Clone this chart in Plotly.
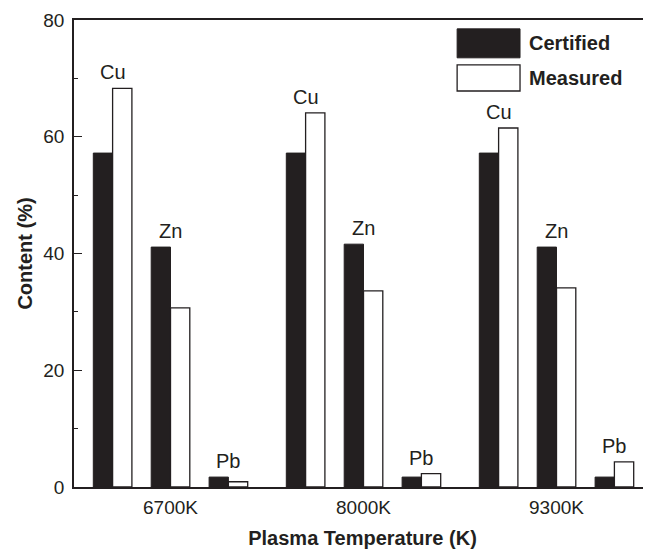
import plotly.graph_objects as go

# ---- data ----
temperatures = ["6700K", "8000K", "9300K"]
elements = ["Cu", "Zn", "Pb"]
certified_cu = [57.2, 57.2, 57.2]
certified_zn = [41.1, 41.6, 41.1]
certified_pb = [1.7, 1.7, 1.7]
measured_cu = [68.3, 64.1, 61.5]
measured_zn = [30.7, 33.6, 34.1]
measured_pb = [0.9, 2.3, 4.3]

certified = [certified_cu, certified_zn, certified_pb]
measured = [measured_cu, measured_zn, measured_pb]

INK = "#231f20"
FONT = "Liberation Sans, Arial, sans-serif"
elem_offset = [-0.3, 0.0, 0.3]
bar_w = 0.1

cx, cy, mx, my, lab = [], [], [], [], []
for g in range(len(temperatures)):
    for e in range(len(elements)):
        c = g + 1 + elem_offset[e]
        cx.append(c - bar_w / 2)
        cy.append(certified[e][g])
        mx.append(c + bar_w / 2)
        my.append(measured[e][g])
        lab.append((c, max(certified[e][g], measured[e][g]), elements[e]))

fig = go.Figure()
fig.add_trace(go.Bar(x=cx, y=cy, width=bar_w, name="Certified",
                     marker=dict(color=INK, line=dict(color=INK, width=1)),
                     showlegend=False))
fig.add_trace(go.Bar(x=mx, y=my, width=bar_w, name="Measured",
                     marker=dict(color="white", line=dict(color=INK, width=1.3)),
                     showlegend=False))

for (x, y, t) in lab:
    fig.add_annotation(x=x, y=y, text=t, showarrow=False, yanchor="bottom",
                       yshift=3, font=dict(family=FONT, size=20, color=INK))

# legend drawn manually (large swatches)
fig.add_shape(type="rect", xref="paper", yref="paper", x0=0.664, x1=0.773,
              y0=0.919, y1=0.981, fillcolor=INK, line=dict(color=INK, width=1))
fig.add_shape(type="rect", xref="paper", yref="paper", x0=0.664, x1=0.773,
              y0=0.848, y1=0.904, fillcolor="white", line=dict(color=INK, width=1.3))
fig.add_annotation(xref="paper", yref="paper", x=0.785, y=0.951, text="<b>Certified</b>",
                   showarrow=False, xanchor="left", yanchor="middle",
                   font=dict(family=FONT, size=20, color=INK))
fig.add_annotation(xref="paper", yref="paper", x=0.785, y=0.876, text="<b>Measured</b>",
                   showarrow=False, xanchor="left", yanchor="middle",
                   font=dict(family=FONT, size=20, color=INK))

fig.update_layout(
    width=643, height=541,
    margin=dict(l=66, r=0, t=12, b=62),
    plot_bgcolor="white", paper_bgcolor="white",
    barmode="overlay",
    font=dict(family=FONT, color=INK),
)
fig.update_xaxes(
    range=[0.5, 0.5 + 577 / 193], tickvals=[1, 2, 3], ticktext=temperatures,
    ticks="", showline=True, linecolor=INK, linewidth=1.5, mirror=True,
    showgrid=False, zeroline=False, automargin=False,
    tickfont=dict(family=FONT, size=19, color=INK),
    ticklabelstandoff=2,
    title=dict(text="<b>Plasma Temperature (K)</b>", standoff=14,
               font=dict(family=FONT, size=20, color=INK)),
)
fig.update_yaxes(
    range=[0, 80], dtick=20, ticks="inside", ticklen=8, tickwidth=1.3, tickcolor=INK,
    minor=dict(dtick=10, ticks="inside", ticklen=4, tickcolor=INK, tickwidth=1.2),
    showline=True, linecolor=INK, linewidth=1.5, showgrid=False, zeroline=False,
    automargin=False,
    tickfont=dict(family=FONT, size=19, color=INK),
    ticklabelstandoff=4,
    title=dict(text="<b>Content (%)</b>", standoff=5,
               font=dict(family=FONT, size=20, color=INK)),
)

fig.write_html("out.html")
